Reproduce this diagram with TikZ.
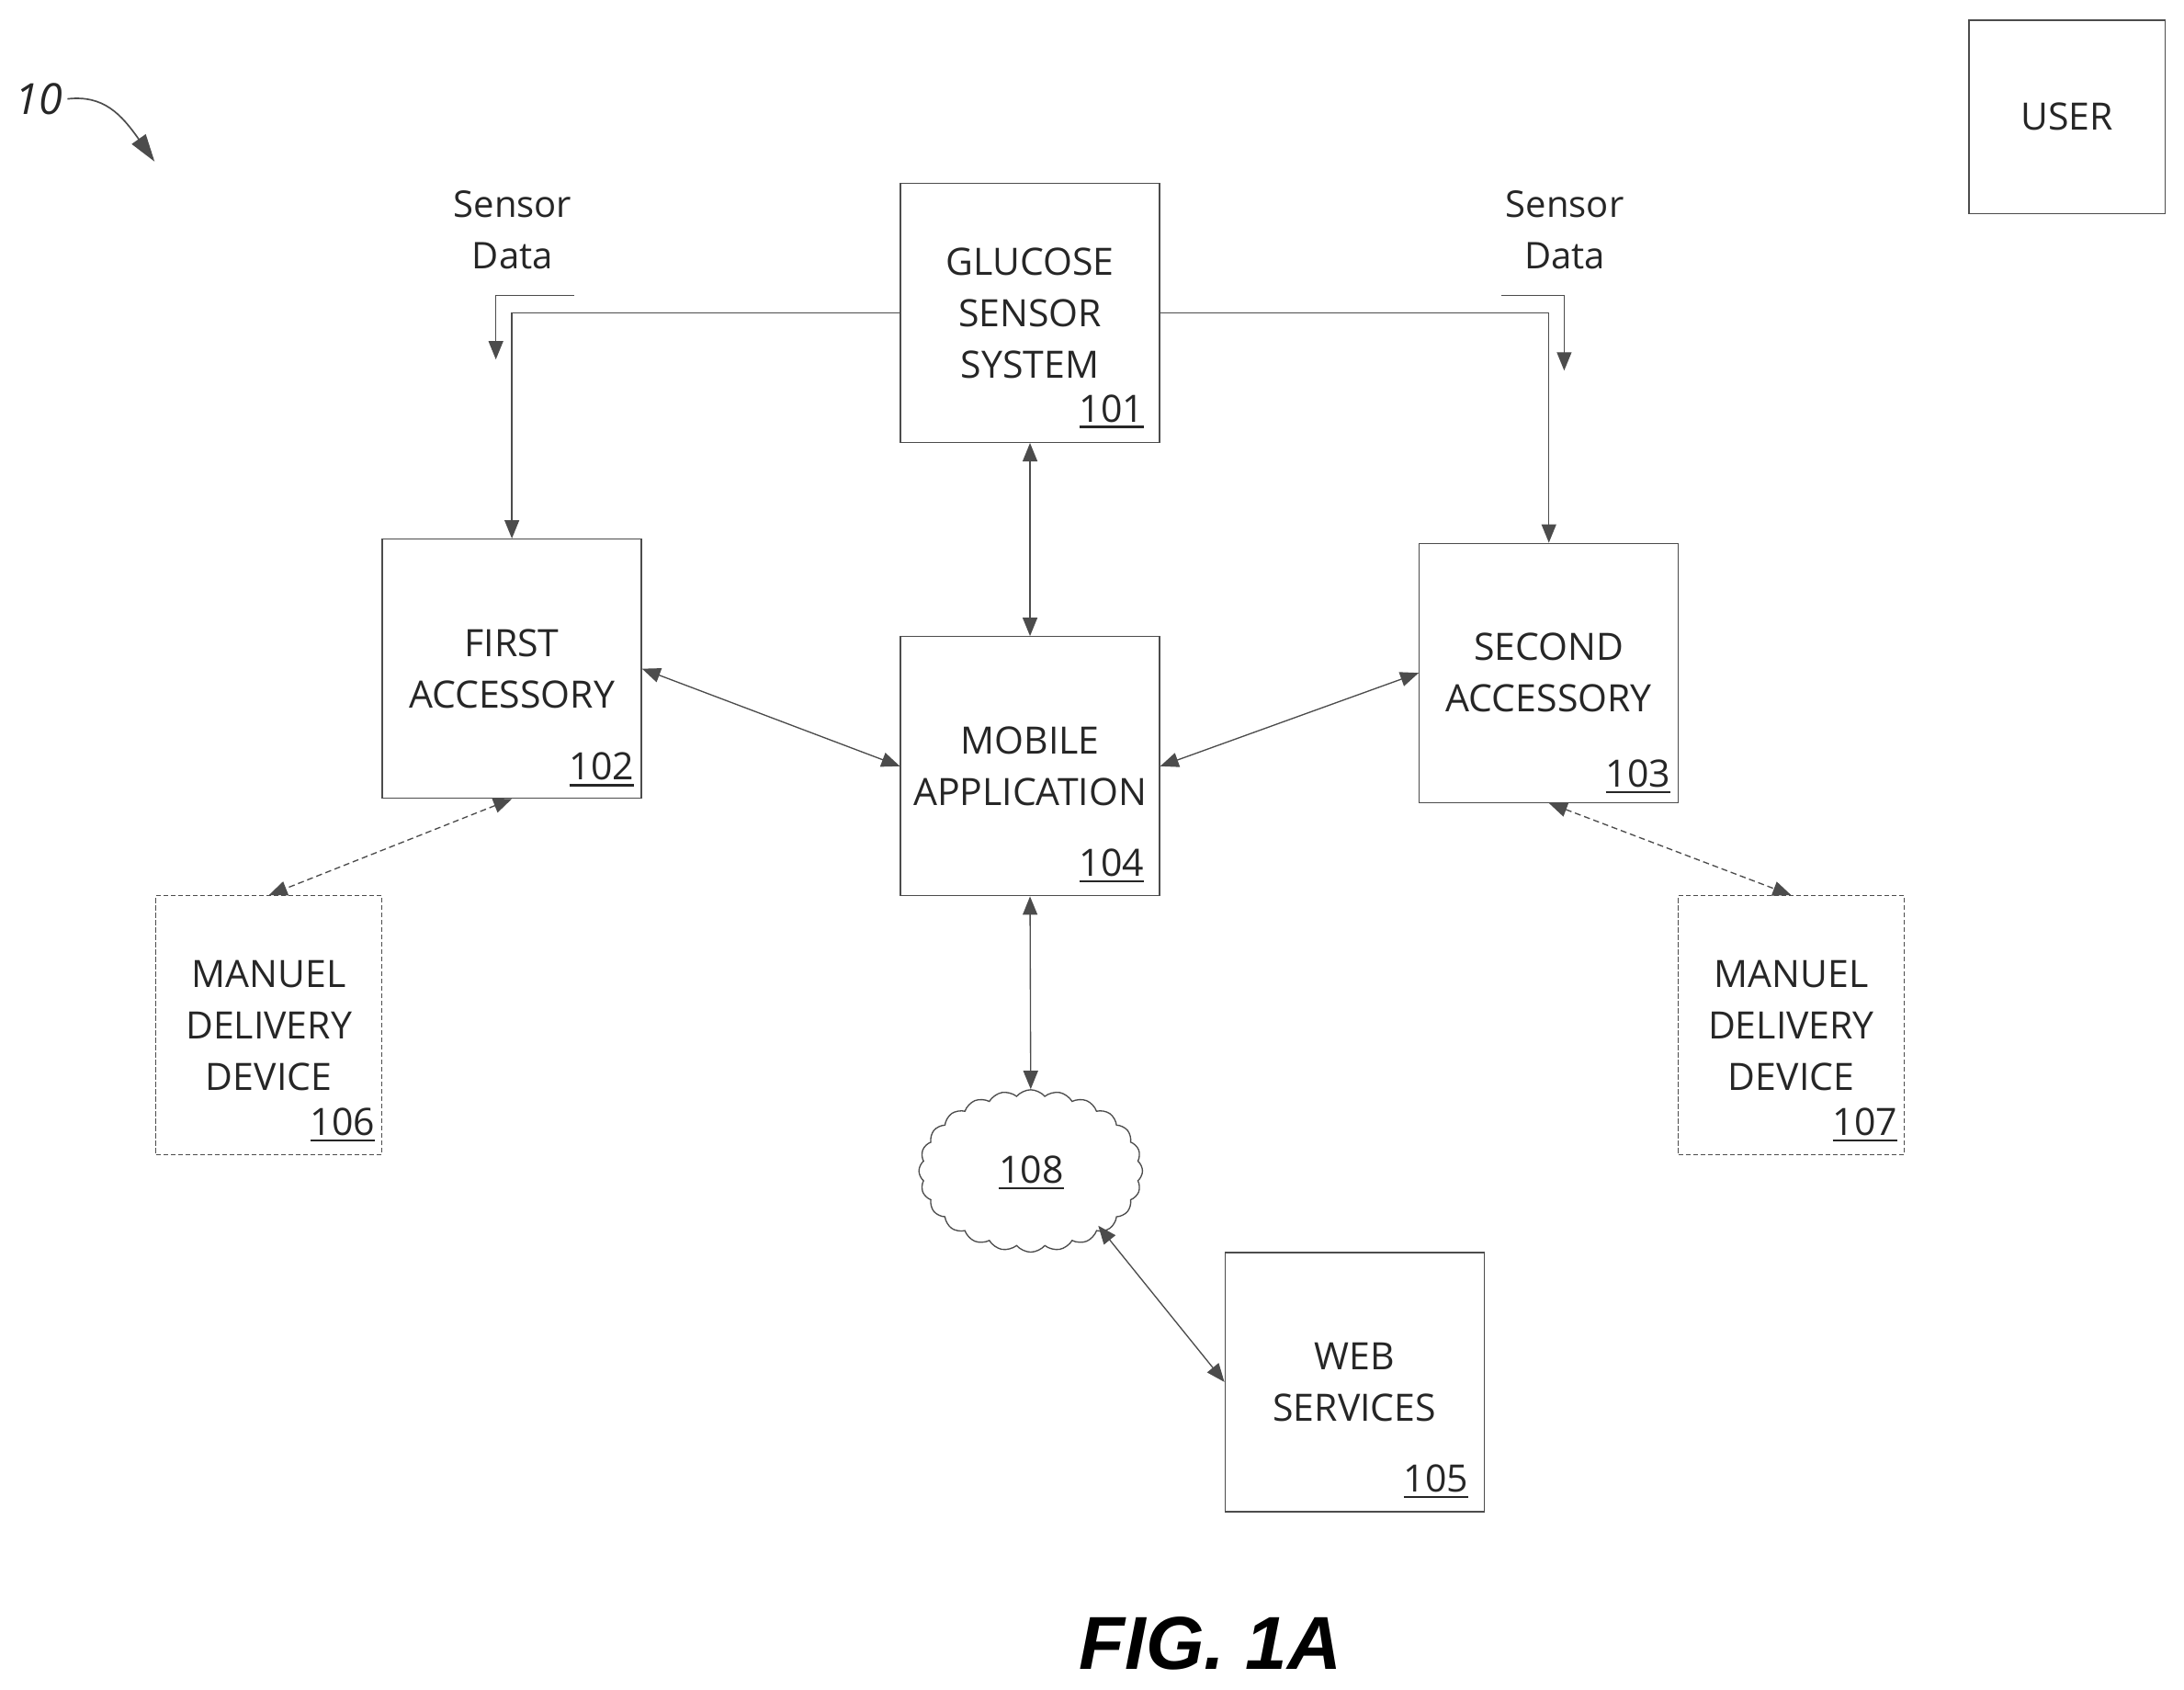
\documentclass[tikz,border=0pt]{standalone}
\usepackage{fontspec}
\setmainfont{Open Sans}
\newfontfamily\figfont{Liberation Sans}
\usetikzlibrary{arrows.meta,shapes.symbols}
\newcommand{\refu}[1]{\vtop{\hbox{#1}\kern1.1pt\hrule height 0.75pt}}
\tikzset{
  lab/.style={font=\fontsize{12}{16.8}\selectfont, text=black!85, align=center, inner sep=0pt},
  caps/.style={font=\fontsize{12.3}{16.8}\selectfont},
  box/.style={lab, caps, draw=black!70, line width=0.4pt, rectangle, minimum width=84.6pt, minimum height=84.6pt},
  dbox/.style={box, dash pattern=on 1.6pt off 0.8pt, minimum width=73.7pt},
  ubox/.style={box, minimum width=64pt, minimum height=63.2pt},
  refn/.style={lab, caps, anchor=base},
  conn/.style={draw=black!70, line width=0.4pt},
  tip/.style={-{Triangle[length=6pt,width=4.8pt]}},
  both/.style={{Triangle[length=6pt,width=4.8pt]}-{Triangle[length=6pt,width=4.8pt]}},
  dconn/.style={conn, dash pattern=on 2pt off 1.2pt},
}
\begin{document}
\begin{tikzpicture}[x=0.4548pt,y=-0.4548pt]
\useasboundingbox (0,0) rectangle (1568,1213);
\node[box] (g) at (739.5,224.5) {\raisebox{0.9pt}{\parbox{70pt}{\centering GLUCOSE\\SENSOR\\SYSTEM}}};
\node[box] (f) at (367.5,480) {FIRST\\ACCESSORY};
\node[box] (s) at (1112,483) {SECOND\\ACCESSORY};
\node[box] (m) at (739.5,550) {MOBILE\\APPLICATION};
\node[box] (w) at (972.5,992) {WEB\\SERVICES};
\node[dbox] (d1) at (193,736) {MANUEL\\DELIVERY\\DEVICE};
\node[dbox] (d2) at (1286,736) {MANUEL\\DELIVERY\\DEVICE};
\node[ubox] (u) at (1484,84) {USER};
\node[cloud, draw=black!70, line width=0.4pt, cloud puffs=24, cloud puff arc=100, minimum width=73pt, minimum height=53pt, aspect=1.38, inner sep=0pt, lab] (c) at (740,840.5) {};
\node[refn] (c108) at (740.5,849.5) {\refu{108}};
\node[refn] (r101) at (798,303) {\refu{101}};
\node[refn] (r102) at (432,560) {\refu{102}};
\node[refn] (r103) at (1176,565) {\refu{103}};
\node[refn] (r104) at (798,629) {\refu{104}};
\node[refn] (r105) at (1031,1071) {\refu{105}};
\node[refn] (r106) at (246,815) {\refu{106}};
\node[refn] (r107) at (1339,815) {\refu{107}};
\node[lab] (sd1) at (368,165) {Sensor\\Data};
\node[lab] (sd2) at (1123.5,165) {Sensor\\Data};
\node[lab, font=\fontsize{14}{16}\itshape] (n10) at (28,71) {10};
\node[inner sep=0pt, font=\figfont\bfseries\itshape\fontsize{24.5}{30}\selectfont] (fig) at (869,1180) {FIG. 1A};
\coordinate (a1) at (412,212);
\coordinate (a2) at (356,258);
\coordinate (b1) at (1078,212);
\coordinate (b2) at (1123,266);
\coordinate (e10) at (111,116);
\draw[conn,tip] (g.west) -| (f.north);
\draw[conn,tip] (g.east) -| (s.north);
\draw[conn,tip] (a1) -| (a2);
\draw[conn,tip] (b1) -| (b2);
\draw[conn,both] (g.south) -- (m.north);
\draw[conn,both] (f.east) -- (m.west);
\draw[conn,both] (m.east) -- (s.west);
\draw[conn,both] (m.south) -- (c.north);
\draw[conn,both,shorten <=-2.5pt] (c.-40) -- (w.west);
\draw[dconn,both] (f.south) -- (d1.north);
\draw[dconn,both] (s.south) -- (d2.north);
\draw[conn,line width=0.5pt,-{Triangle[length=9pt,width=5.5pt]}] (n10.east) ++(3,0) .. controls +(26,-3) and +(-24,-34) .. (e10);
\end{tikzpicture}
\end{document}
